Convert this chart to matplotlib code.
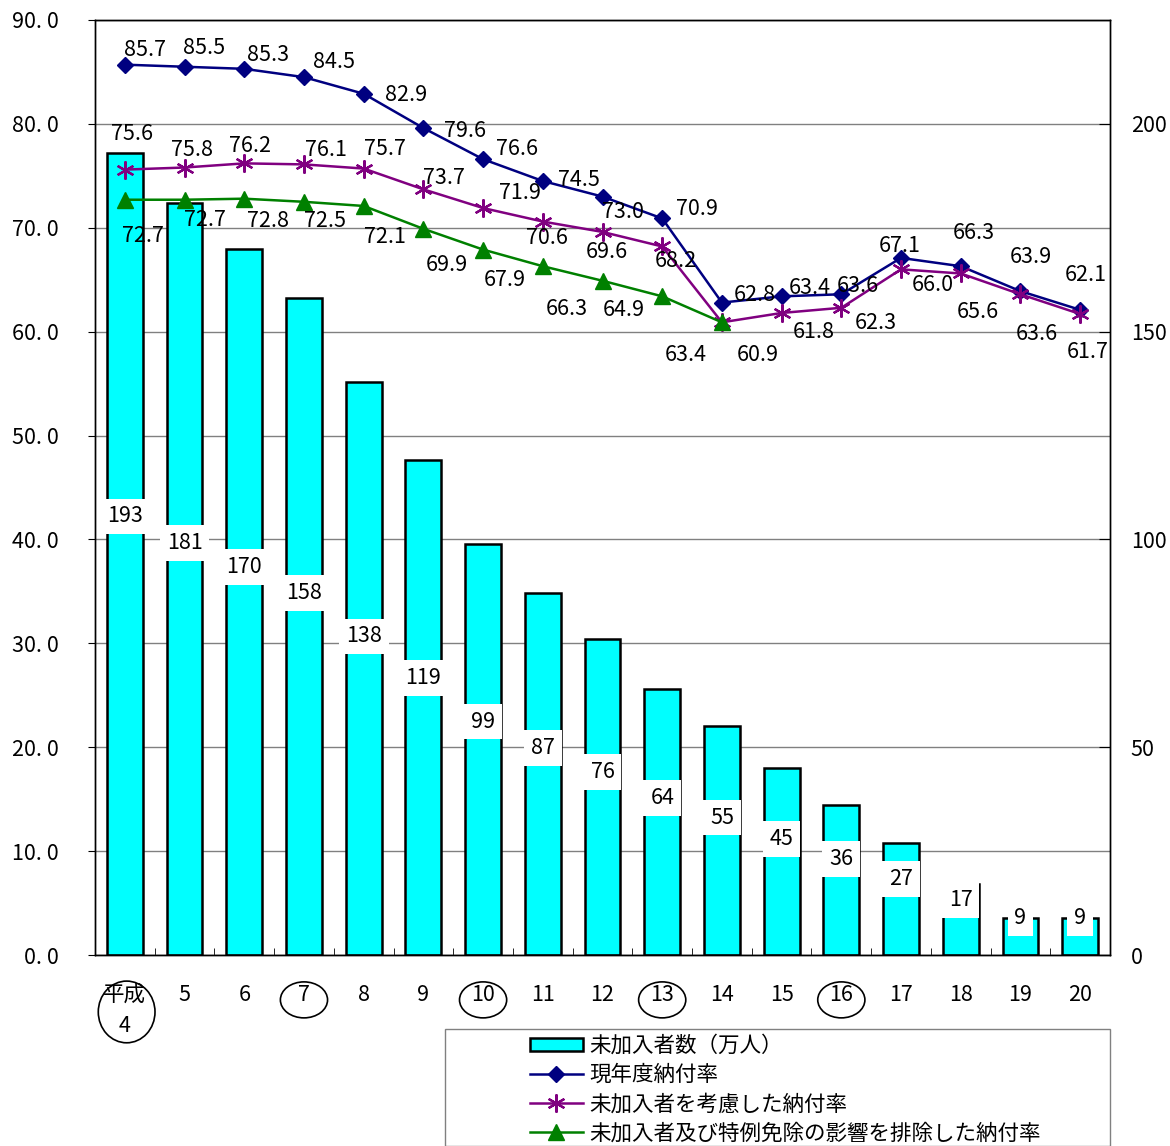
import matplotlib
matplotlib.use('Agg')
import matplotlib.pyplot as plt
from matplotlib.patches import Ellipse, Rectangle
from matplotlib.ticker import FixedLocator, MultipleLocator

plt.rcParams['font.family'] = ['Noto Sans CJK JP', 'DejaVu Sans']

# data
years = ['平成\n4', '5', '6', '7', '8', '9', '10', '11', '12', '13',
         '14', '15', '16', '17', '18', '19', '20']
unjoined = [193, 181, 170, 158, 138, 119, 99, 87, 76, 64, 55, 45, 36, 27, 17, 9, 9]
rate_current = [85.7, 85.5, 85.3, 84.5, 82.9, 79.6, 76.6, 74.5, 73.0, 70.9,
                62.8, 63.4, 63.6, 67.1, 66.3, 63.9, 62.1]
rate_unjoined = [75.6, 75.8, 76.2, 76.1, 75.7, 73.7, 71.9, 70.6, 69.6, 68.2,
                 60.9, 61.8, 62.3, 66.0, 65.6, 63.6, 61.7]
rate_excl = [72.7, 72.7, 72.8, 72.5, 72.1, 69.9, 67.9, 66.3, 64.9, 63.4, 60.9]
circled = ['平成\n4', '7', '10', '13', '16']

names = ['未加入者数（万人）', '現年度納付率', '未加入者を考慮した納付率',
         '未加入者及び特例免除の影響を排除した納付率']

# label offsets (pixels, x right / y down) for the rate labels
off_current = [(20, -15), (20, -19), (24, -14), (30, -15), (42, 1), (42, 3), (34, -10),
               (36, -1), (20, 15), (35, -9), (33, -8), (28, -8), (16, -8), (-1, -12),
               (13, -33), (10, -34), (6, -35)]
off_unjoined = [(7, -36), (7, -18), (6, -17), (22, -14), (21, -20), (21, -11), (37, -15),
                (4, 16), (4, 20), (14, 15), (36, 33), (32, 19), (34, 15), (32, 16),
                (17, 39), (16, 40), (8, 38)]
off_excl = [(18, 36), (20, 20), (24, 22), (21, 19), (21, 31), (23, 36), (22, 30),
            (24, 43), (21, 29), (24, 59)]

W, H = 1170, 1146
fig = plt.figure(figsize=(W / 100, H / 100), dpi=100)
ax2 = fig.add_axes([95 / W, 1 - 955 / H, (1110 - 95) / W, (955 - 20) / H])  # bars, right scale
ax = ax2.twinx()  # rate lines, left scale
ax.yaxis.tick_left()
ax.set_zorder(ax2.get_zorder() + 1)
ax.patch.set_visible(False)

x = list(range(len(years)))
FS = 15.5

# bars
bars = ax2.bar(x, unjoined, width=0.6, color='#00FFFF', edgecolor='black',
               linewidth=1.8, zorder=2)
ax2.set_ylim(0, 225)
ax2.yaxis.set_major_locator(FixedLocator([0, 50, 100, 150, 200]))
ax2.yaxis.set_minor_locator(MultipleLocator(25))
ax2.grid(axis='y', which='both', color='#808080', linewidth=1.0, zorder=0)
ax2.set_axisbelow(True)
ax2.tick_params(axis='y', which='major', direction='in', length=8, pad=15,
                labelsize=FS, right=True, left=False, labelright=True, labelleft=False)
ax2.tick_params(axis='y', which='minor', length=0)
for xi, v in zip(x, unjoined):
    ax2.text(xi, v * 0.525 + 4.2, str(v), ha='center', va='center', fontsize=FS,
             bbox=dict(facecolor='white', edgecolor='none', pad=5), zorder=3)

# lines
ln1, = ax.plot(x, rate_current, color='#000080', linewidth=1.8, marker='D',
               markersize=8, zorder=4)
ln2, = ax.plot(x, rate_unjoined, color='#800080', linewidth=1.8, marker=(6, 2, 0),
               markersize=13, markeredgewidth=1.6, zorder=4)
ln3, = ax.plot(x[:len(rate_excl)], rate_excl, color='#008000', linewidth=1.8,
               marker='^', markersize=11, zorder=4)

# the last green label sits under the purple 60.9, so only the first ten are drawn
for vals, offs in [(rate_current, off_current), (rate_unjoined, off_unjoined),
                   (rate_excl, off_excl)]:
    for xi, (v, (dx, dy)) in enumerate(zip(vals, offs)):
        ax.annotate(f'{v:.1f}', (xi, v), xytext=(dx * 0.72, -dy * 0.72),
                    textcoords='offset points', ha='center', va='center',
                    fontsize=FS, zorder=5)

ax.set_ylim(0, 90)
ax.set_xlim(-0.5, len(years) - 0.5)
ax.yaxis.set_major_locator(MultipleLocator(10))
ax.set_yticklabels([f'{t:.1f}'.replace('.', '. ') for t in ax.get_yticks()])
ax.tick_params(axis='y', direction='out', length=5, pad=21, labelsize=FS,
               left=True, right=False, labelleft=True, labelright=False)

ax2.set_xticks(x)
ax2.set_xticklabels(years, fontsize=FS, linespacing=1.5)
ax2.xaxis.set_minor_locator(FixedLocator([i + 0.5 for i in x[:-1]]))
ax2.tick_params(axis='x', which='major', length=0, pad=21)
ax2.tick_params(axis='x', which='minor', direction='in', length=5)
ax.tick_params(axis='x', which='both', bottom=False, labelbottom=False)

for a in (ax, ax2):
    for s in a.spines.values():
        s.set_color('black')
        s.set_linewidth(1.0)

# circled year labels
xt = ax2.get_xaxis_transform()
for lab in circled:
    i = years.index(lab)
    if '\n' in lab:
        e = Ellipse((i + 0.03, -0.0609), 0.95, 0.066, transform=xt)
    else:
        e = Ellipse((i, -0.048), 0.79, 0.0385, transform=xt)
    e.set(facecolor='none', edgecolor='black', linewidth=1.2, clip_on=False)
    ax2.add_patch(e)

# legend
fig.patches.append(Rectangle((445 / W, 0), (1110 - 445) / W, 1 - 1029 / H,
                             transform=fig.transFigure, facecolor='white',
                             edgecolor='#808080', linewidth=1.0))
fig.legend([bars, ln1, ln2, ln3], names, loc='upper left',
           bbox_to_anchor=(530 / W, 1 - 1035 / H), frameon=False, fontsize=FS,
           borderpad=0, borderaxespad=0, handlelength=2.45, handletextpad=0.3,
           handleheight=0.55, labelspacing=0.33)

fig.savefig('out.png', dpi=100)
